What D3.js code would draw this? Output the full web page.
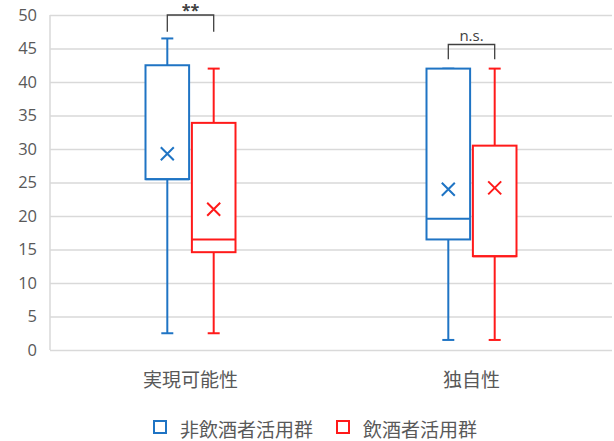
<!DOCTYPE html>
<html><head><meta charset="utf-8">
<script src="https://cdn.jsdelivr.net/npm/d3@7"></script>
<style>body{margin:0;background:#fff}svg{display:block}</style>
</head><body><svg id="c" width="614" height="441"></svg>
<script>
const categories = ["実現可能性", "独自性"];
const seriesNames = ["非飲酒者活用群", "飲酒者活用群"];
const seriesColors = ["#1f74c4", "#ff1a1a"];
// per series: [cat1, cat2]
const whiskerMin = [[2.5, 1.5], [2.5, 1.5]];
const q1 = [[25.5, 16.5], [14.6, 14.0]];
const median = [[25.5, 19.6], [16.5, 14.0]];
const q3 = [[42.5, 42.0], [33.9, 30.5]];
const whiskerMax = [[46.5, 42.0], [42.0, 42.0]];
const means = [[29.3, 24.0], [21.0, 24.2]];
const yTicks = [0, 5, 10, 15, 20, 25, 30, 35, 40, 45, 50];
const sigLabels = ["**", "n.s."];
const bracketTop = [50, 45.6];
const bracketLeg = [47.5, 43.4];

const svg = d3.select("#c");
const L = 50, R = 612, T = 15, B = 350;
const y = d3.scaleLinear().domain([0, 50]).range([B, T]);
const x = d3.scaleBand().domain(categories).range([L, R]);
const xs = d3.scaleBand().domain(seriesNames).range([-45, 45]).paddingInner(0.06);

// gridlines
const yAxis = d3.axisLeft(y).tickValues(yTicks).tickSize(-(R - L)).tickPadding(13);
const ga = svg.append("g").attr("transform", `translate(${L},0)`).call(yAxis);
ga.select(".domain").remove();
ga.selectAll(".tick line").attr("stroke", "#d9d9d9").attr("stroke-width", 1.5);
ga.selectAll(".tick text").attr("fill", "#595959").attr("font-size", 16.5)
  .attr("font-family", "'Open Sans', 'Liberation Sans', sans-serif");
svg.append("line").attr("x1", L).attr("x2", L).attr("y1", T).attr("y2", B)
  .attr("stroke", "#d9d9d9").attr("stroke-width", 1.5);

// category labels
svg.append("g").selectAll("text").data(categories).join("text")
  .attr("x", d => x(d) + x.bandwidth() / 2).attr("y", 378)
  .attr("text-anchor", "middle").attr("dominant-baseline", "central")
  .attr("font-size", 19).attr("fill", "#595959")
  .attr("font-family", "'Noto Sans CJK JP', sans-serif").text(d => d);

// boxes
seriesNames.forEach((s, si) => {
  const col = seriesColors[si];
  const g = svg.append("g").attr("stroke", col).attr("fill", "none").attr("stroke-width", 2);
  categories.forEach((c, ci) => {
    const cx = x(c) + x.bandwidth() / 2 + xs(s) + xs.bandwidth() / 2;
    const bw = xs.bandwidth();
    const capW = 12;
    // whiskers
    g.append("line").attr("x1", cx).attr("x2", cx).attr("y1", y(whiskerMax[si][ci])).attr("y2", y(q3[si][ci]));
    g.append("line").attr("x1", cx).attr("x2", cx).attr("y1", y(q1[si][ci])).attr("y2", y(whiskerMin[si][ci]));
    g.append("line").attr("x1", cx - capW / 2).attr("x2", cx + capW / 2).attr("y1", y(whiskerMax[si][ci])).attr("y2", y(whiskerMax[si][ci]));
    g.append("line").attr("x1", cx - capW / 2).attr("x2", cx + capW / 2).attr("y1", y(whiskerMin[si][ci])).attr("y2", y(whiskerMin[si][ci]));
    // box
    g.append("rect").attr("x", cx - bw / 2).attr("y", y(q3[si][ci]))
      .attr("width", bw).attr("height", y(q1[si][ci]) - y(q3[si][ci])).attr("fill", "#fff");
    g.append("line").attr("x1", cx - bw / 2).attr("x2", cx + bw / 2)
      .attr("y1", y(median[si][ci])).attr("y2", y(median[si][ci]));
    // mean x
    const my = y(means[si][ci]), m = 6.5;
    g.append("path").attr("d", `M${cx - m},${my - m}L${cx + m},${my + m}M${cx - m},${my + m}L${cx + m},${my - m}`);
  });
});

// significance brackets
categories.forEach((c, ci) => {
  const c0 = x(c) + x.bandwidth() / 2;
  const x0 = c0 + xs(seriesNames[0]) + xs.bandwidth() / 2;
  const x1 = c0 + xs(seriesNames[1]) + xs.bandwidth() / 2;
  svg.append("path")
    .attr("d", `M${x0},${y(bracketLeg[ci])}V${y(bracketTop[ci])}H${x1}V${y(bracketLeg[ci])}`)
    .attr("fill", "none").attr("stroke", "#404040").attr("stroke-width", 1.3);
  svg.append("text").attr("x", (x0 + x1) / 2).attr("y", ci === 0 ? y(bracketTop[ci]) + 1 : y(bracketTop[ci]) - 3)
    .attr("text-anchor", "middle").attr("font-size", ci === 0 ? 16 : 15)
    .attr("font-weight", ci === 0 ? "bold" : "normal")
    .attr("fill", "#404040").attr("font-family", "'Open Sans', 'Liberation Sans', sans-serif")
    .text(sigLabels[ci]);
});

// legend
const legX = [154, 337];
const lg = svg.append("g");
seriesNames.forEach((s, si) => {
  lg.append("rect").attr("x", legX[si]).attr("y", 421).attr("width", 12).attr("height", 12)
    .attr("fill", "none").attr("stroke", seriesColors[si]).attr("stroke-width", 2);
  lg.append("text").attr("x", legX[si] + 26).attr("y", 428).attr("dominant-baseline", "central")
    .attr("font-size", 19).attr("fill", "#595959")
    .attr("font-family", "'Noto Sans CJK JP', sans-serif").text(s);
});
</script></body></html>
